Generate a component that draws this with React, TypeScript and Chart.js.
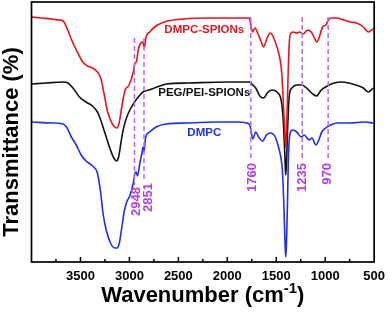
import React, { useEffect, useRef } from 'react';
import { Chart, registerables } from 'chart.js';

Chart.register(...registerables);

// ---- data (wavenumber in cm-1, transmittance in arbitrary offset units) ----
const redWn = [3995, 3900, 3800, 3720, 3677, 3643, 3610, 3577, 3527, 3477, 3427, 3377, 3327, 3293, 3260, 3227, 3193, 3160, 3127, 3103, 3083, 3060, 3043, 3003, 2960, 2943, 2930, 2910, 2883, 2863, 2847, 2830, 2793, 2743, 2643, 2443, 2200, 2000, 1850, 1777, 1765, 1743, 1717, 1690, 1660, 1630, 1590, 1560, 1530, 1490, 1460, 1445, 1430, 1418, 1410, 1403, 1395, 1385, 1375, 1365, 1355, 1327, 1293, 1260, 1227, 1177, 1143, 1110, 1087, 1060, 1027, 993, 977, 943, 880, 810, 740, 680, 610, 560, 510];
const redT = [245, 244, 243, 242, 241, 235, 227, 219, 209, 200, 196, 194, 190, 184, 169, 152, 142, 136, 134, 140, 152, 165, 172, 177, 190, 199, 200, 212, 219, 220, 214, 225, 230, 235, 240, 243, 244, 244, 244, 244, 240, 230, 234, 229, 222, 215, 225, 229, 225, 214, 202, 190, 165, 140, 125, 115, 130, 165, 200, 222, 228, 230, 229, 230, 228, 232, 230, 224, 220, 225, 235, 237, 240, 244, 244, 242, 240, 239, 235, 230, 233];

const blackWn = [3995, 3850, 3677, 3627, 3577, 3510, 3443, 3377, 3327, 3293, 3260, 3227, 3193, 3160, 3130, 3110, 3090, 3070, 3043, 3010, 2960, 2910, 2860, 2800, 2720, 2620, 2400, 2000, 1770, 1740, 1710, 1660, 1627, 1593, 1543, 1493, 1450, 1435, 1420, 1410, 1403, 1395, 1385, 1375, 1365, 1340, 1290, 1240, 1190, 1140, 1090, 1040, 980, 910, 830, 760, 690, 610, 560, 510];
const blackT = [178, 179, 180, 179, 174, 165, 160, 156, 150, 142, 132, 122, 112, 104, 101, 105, 117, 129, 140, 149, 158, 165, 170, 172, 175, 178, 179, 180, 180, 177, 174, 165, 164, 169, 172, 170, 162, 150, 125, 100, 87, 100, 130, 155, 168, 174, 177, 177, 174, 169, 166, 172, 176, 179, 180, 179, 177, 174, 170, 174];

const blueWn = [3995, 3800, 3680, 3643, 3593, 3543, 3493, 3443, 3377, 3327, 3293, 3270, 3237, 3193, 3150, 3127, 3103, 3077, 3050, 3027, 2993, 2960, 2943, 2930, 2917, 2893, 2870, 2860, 2853, 2833, 2793, 2727, 2627, 2400, 2100, 1900, 1800, 1770, 1740, 1710, 1680, 1640, 1600, 1560, 1510, 1477, 1460, 1440, 1430, 1420, 1410, 1403, 1395, 1385, 1378, 1370, 1360, 1335, 1290, 1245, 1215, 1165, 1135, 1095, 1065, 1035, 995, 945, 880, 750, 600, 510];
const blueT = [140, 139, 138, 135, 125, 117, 107, 101, 96, 89, 69, 49, 32, 19, 14, 14, 19, 35, 52, 60, 67, 79, 89, 90, 86, 99, 110, 115, 110, 125, 130, 135, 138, 139, 140, 140, 139, 137, 123, 130, 125, 121, 127, 129, 125, 115, 108, 95, 78, 50, 18, 5, 20, 60, 95, 118, 128, 132, 130, 125, 127, 122, 124, 117, 122, 130, 134, 137, 139, 139, 140, 139];

const seriesNames = ['DMPC-SPIONs', 'PEG/PEI-SPIONs', 'DMPC'];
const markerWn = [2948, 2851, 1760, 1235, 970];
const markerLabels = ['2948', '2851', '1760', '1235', '970'];
const xTickStep = 500;
const xMinorStep = 250;
const xMin = 500;
const xMax = 4000;
const yMin = 0;
const yMax = 260;

// ---- styles / positions ----
const FONT = "'Liberation Sans', Arial, Helvetica, sans-serif";
const COLORS = ['#e8141c', '#111111', '#1f2ff0'];
const MARKER_LINE = '#b46cf2';
const MARKER_TEXT = '#b03ef0';
const LABEL_POS = [
  { wn: 2235, t: 232 },
  { wn: 2235, t: 169 },
  { wn: 2235, t: 129 },
];
const MARKER_STYLE = {
  lineTop: [224, 224, 245, 245, 245],
  labelTop: [75, 79, 99, 99, 99],
  dx: [2, 4, 2, 0, -0.5],
};

const overlayPlugin = {
  id: 'overlay',
  afterDatasetsDraw(chart: any) {
    const { ctx, chartArea: a } = chart;
    const x = chart.scales.x;
    const y = chart.scales.y;
    ctx.save();

    // dashed marker lines and labels
    markerWn.forEach((wn, i) => {
      const px = x.getPixelForValue(wn);
      const top = y.getPixelForValue(MARKER_STYLE.lineTop[i]);
      const labTop = y.getPixelForValue(MARKER_STYLE.labelTop[i]);
      ctx.save();
      ctx.strokeStyle = MARKER_LINE;
      ctx.lineWidth = 1.5;
      ctx.setLineDash([5, 3]);
      ctx.beginPath();
      ctx.moveTo(px, top);
      ctx.lineTo(px, labTop - 2);
      ctx.stroke();
      ctx.restore();

      ctx.save();
      ctx.translate(px + MARKER_STYLE.dx[i], labTop);
      ctx.rotate(-Math.PI / 2);
      ctx.fillStyle = MARKER_TEXT;
      ctx.font = `bold 13px ${FONT}`;
      ctx.textAlign = 'right';
      ctx.textBaseline = 'middle';
      ctx.fillText(markerLabels[i], 0, 0);
      ctx.restore();
    });

    // series labels
    ctx.font = `bold 11.5px ${FONT}`;
    ctx.textAlign = 'center';
    ctx.textBaseline = 'middle';
    seriesNames.forEach((name, i) => {
      ctx.fillStyle = COLORS[i];
      ctx.fillText(name, x.getPixelForValue(LABEL_POS[i].wn), y.getPixelForValue(LABEL_POS[i].t));
    });

    // inward ticks
    ctx.strokeStyle = '#000';
    ctx.lineWidth = 1.5;
    for (let v = xMin + xMinorStep; v < xMax; v += xMinorStep) {
      const px = x.getPixelForValue(v);
      const len = v % xTickStep === 0 ? 5 : 3;
      ctx.beginPath();
      ctx.moveTo(px, a.bottom);
      ctx.lineTo(px, a.bottom - len);
      ctx.stroke();
    }

    // frame
    ctx.lineWidth = 1.7;
    ctx.strokeRect(a.left, a.top, a.right - a.left, a.bottom - a.top);

    // axis titles
    ctx.fillStyle = '#000';
    const big = `bold 22px ${FONT}`;
    const small = `bold 15px ${FONT}`;
    const p1 = 'Wavenumber (cm';
    const sup = '-1';
    const p3 = ')';
    ctx.font = big;
    const w1 = ctx.measureText(p1).width;
    const w3 = ctx.measureText(p3).width;
    ctx.font = small;
    const w2 = ctx.measureText(sup).width;
    const total = w1 + w2 + w3;
    let sx = (a.left + a.right) / 2 - total / 2;
    const base = 302;
    ctx.textAlign = 'left';
    ctx.textBaseline = 'alphabetic';
    ctx.font = big;
    ctx.fillText(p1, sx, base);
    sx += w1;
    ctx.font = small;
    ctx.fillText(sup, sx, base - 9);
    sx += w2;
    ctx.font = big;
    ctx.fillText(p3, sx, base);

    ctx.save();
    ctx.translate(17.5, 142);
    ctx.rotate(-Math.PI / 2);
    ctx.font = big;
    ctx.textAlign = 'center';
    ctx.textBaseline = 'alphabetic';
    ctx.fillText('Transmittance (%)', 0, 0);
    ctx.restore();

    ctx.restore();
  },
};

function toPoints(xs: number[], ys: number[]) {
  return xs.map((v, i) => ({ x: v, y: ys[i] }));
}

export default function App() {
  const ref = useRef<HTMLCanvasElement | null>(null);
  useEffect(() => {
    document.body.style.margin = '0';
    const canvas = ref.current;
    if (!canvas) return;
    const chart = new Chart(canvas, {
      type: 'line',
      data: {
        datasets: [
          { label: seriesNames[0], data: toPoints(redWn, redT), borderColor: COLORS[0] },
          { label: seriesNames[1], data: toPoints(blackWn, blackT), borderColor: COLORS[1] },
          { label: seriesNames[2], data: toPoints(blueWn, blueT), borderColor: COLORS[2] },
        ],
      },
      options: {
        animation: false,
        responsive: false,
        events: [],
        parsing: false,
        layout: { padding: { left: 31.5, right: 11.3, top: 2, bottom: 0 } },
        elements: {
          point: { radius: 0 },
          line: { borderWidth: 1.6, cubicInterpolationMode: 'monotone', fill: false },
        },
        plugins: { legend: { display: false }, tooltip: { enabled: false } },
        scales: {
          x: {
            type: 'linear',
            reverse: true,
            min: xMin,
            max: xMax,
            grid: { display: false, drawTicks: false },
            border: { display: false },
            ticks: {
              stepSize: xTickStep,
              autoSkip: false,
              maxRotation: 0,
              padding: 7,
              color: '#000',
              font: { family: FONT, size: 13, weight: 'bold' },
              callback: (v: any) => (Number(v) === xMax ? '' : String(v)),
            },
            afterFit: (s: any) => {
              s.height = 51;
            },
          },
          y: { display: false, min: yMin, max: yMax },
        },
      } as any,
      plugins: [overlayPlugin],
    });
    return () => chart.destroy();
  }, []);
  return (
    <div style={{ position: 'absolute', left: 0, top: 0, width: 392, height: 313, background: '#fff' }}>
      <canvas ref={ref} width={392} height={313} />
    </div>
  );
}
